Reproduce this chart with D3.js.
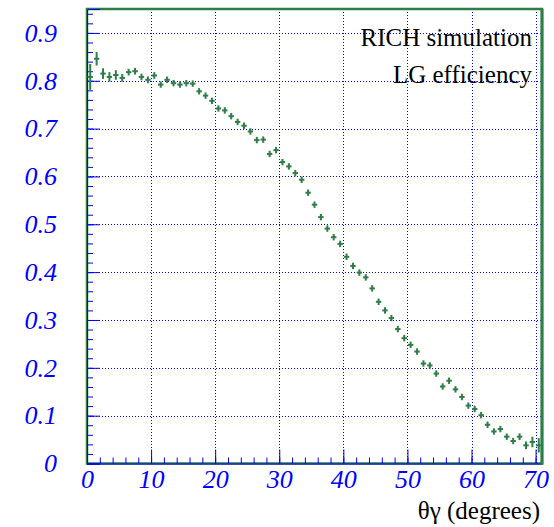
<!DOCTYPE html>
<html>
<head>
    <style>
    body { margin: 0; background: #fff; }
    svg { display: block; }
    .serif { font-family: "Liberation Serif", "DejaVu Serif", "Times New Roman", serif; }
    </style>
</head>
<body>
    <svg width="554" height="527"></svg>
    <script src="https://d3js.org/d3.v7.min.js"></script>
    <script>

        // bin centres (degrees), 1 degree bins
        var theta = [0.5, 1.5, 2.5, 3.5, 4.5, 5.5, 6.5, 7.5, 8.5, 9.5,
            10.5, 11.5, 12.5, 13.5, 14.5, 15.5, 16.5, 17.5, 18.5, 19.5,
            20.5, 21.5, 22.5, 23.5, 24.5, 25.5, 26.5, 27.5, 28.5, 29.5,
            30.5, 31.5, 32.5, 33.5, 34.5, 35.5, 36.5, 37.5, 38.5, 39.5,
            40.5, 41.5, 42.5, 43.5, 44.5, 45.5, 46.5, 47.5, 48.5, 49.5,
            50.5, 51.5, 52.5, 53.5, 54.5, 55.5, 56.5, 57.5, 58.5, 59.5,
            60.5, 61.5, 62.5, 63.5, 64.5, 65.5, 66.5, 67.5, 68.5, 69.5,
            70.5];

        var efficiency = [0.808, 0.846, 0.815, 0.808, 0.812, 0.806, 0.818, 0.820, 0.808, 0.802,
            0.811, 0.792, 0.802, 0.795, 0.792, 0.795, 0.794, 0.778, 0.769, 0.758,
            0.742, 0.738, 0.726, 0.714, 0.706, 0.694, 0.676, 0.677, 0.647, 0.655,
            0.630, 0.621, 0.607, 0.593, 0.566, 0.541, 0.515, 0.491, 0.473, 0.459,
            0.432, 0.413, 0.399, 0.389, 0.366, 0.338, 0.320, 0.304, 0.281, 0.262,
            0.248, 0.234, 0.209, 0.205, 0.188, 0.161, 0.173, 0.155, 0.139, 0.121,
            0.114, 0.101, 0.081, 0.067, 0.072, 0.056, 0.047, 0.056, 0.038, 0.045,
            0.038];

        var errors = [0.027, 0.014, 0.011, 0.010, 0.010, 0.008, 0.007, 0.007, 0.007, 0.007,
            0.007, 0.006, 0.006, 0.006, 0.006, 0.006, 0.006, 0.006, 0.006, 0.006,
            0.006, 0.006, 0.006, 0.006, 0.006, 0.006, 0.006, 0.006, 0.006, 0.006,
            0.006, 0.006, 0.006, 0.006, 0.006, 0.006, 0.006, 0.006, 0.006, 0.006,
            0.006, 0.006, 0.006, 0.006, 0.006, 0.006, 0.006, 0.006, 0.006, 0.006,
            0.006, 0.006, 0.006, 0.006, 0.006, 0.006, 0.006, 0.006, 0.006, 0.006,
            0.006, 0.006, 0.006, 0.006, 0.006, 0.006, 0.006, 0.007, 0.008, 0.011,
            0.015];

        var xTicks = [0, 10, 20, 30, 40, 50, 60, 70];
        var yTicks = [0, 0.1, 0.2, 0.3, 0.4, 0.5, 0.6, 0.7, 0.8, 0.9];
        var legendLines = ["RICH simulation", "LG efficiency"];
        var xTitle = "θγ (degrees)";

        (function () {
            var svg = d3.select("svg"),
                x0 = 87, x1 = 542, y0 = 9, y1 = 463.5;

            var green = "#2f7d48", blue = "#0000ff";
            var serif = '"Liberation Serif", "DejaVu Serif", "Times New Roman", serif';

            var x = d3.scaleLinear().domain([0, 71]).range([x0, x1]);
            var y = d3.scaleLinear().domain([0, 0.95]).range([y1, y0]);

            // grid
            var grid = svg.append("g")
                .attr("stroke", blue)
                .attr("stroke-width", 1)
                .attr("stroke-dasharray", "1,2");
            grid.selectAll(".gx").data(xTicks.slice(1)).enter().append("line")
                .attr("x1", function (d) { return Math.round(x(d)) + 0.5; })
                .attr("x2", function (d) { return Math.round(x(d)) + 0.5; })
                .attr("y1", y0).attr("y2", y1);
            grid.selectAll(".gy").data(yTicks.slice(1)).enter().append("line")
                .attr("y1", function (d) { return Math.round(y(d)) + 0.5; })
                .attr("y2", function (d) { return Math.round(y(d)) + 0.5; })
                .attr("x1", x0).attr("x2", x1);

            // frame
            svg.append("rect")
                .attr("x", x0).attr("y", y0)
                .attr("width", x1 - x0).attr("height", y1 - y0)
                .attr("fill", "none")
                .attr("stroke", green)
                .attr("stroke-width", 2.5);

            // minor ticks
            svg.append("g")
                .attr("transform", "translate(" + x0 + ",0)")
                .call(d3.axisLeft(y).tickValues(d3.range(0, 0.95, 0.02)).tickSize(-6).tickFormat(""))
                .call(function (g) { g.select(".domain").remove(); g.selectAll("line").attr("stroke", blue); });
            svg.append("g")
                .attr("transform", "translate(0," + y1 + ")")
                .call(d3.axisBottom(x).tickValues(d3.range(0, 71, 2)).tickSize(-6).tickFormat(""))
                .call(function (g) { g.select(".domain").remove(); g.selectAll("line").attr("stroke", blue); });

            // major ticks + labels
            var yAxis = svg.append("g")
                .attr("transform", "translate(" + x0 + ",0)")
                .call(d3.axisLeft(y).tickValues(yTicks).tickSize(-13).tickPadding(30)
                    .tickFormat(function (d) { return d === 0 ? "0" : d3.format(".1f")(d); }));
            yAxis.attr("font-family", null);
            yAxis.select(".domain").attr("stroke", blue);
            yAxis.selectAll("line").attr("stroke", blue);
            yAxis.selectAll("text")
                .attr("class", "serif")
                .style("font-family", serif)
                .attr("fill", blue)
                .style("font-style", "italic")
                .style("font-size", "26px");

            var xAxis = svg.append("g")
                .attr("transform", "translate(0," + y1 + ")")
                .call(d3.axisBottom(x).tickValues(xTicks).tickSize(-14).tickPadding(6));
            xAxis.attr("font-family", null);
            xAxis.select(".domain").attr("stroke", blue);
            xAxis.selectAll("line").attr("stroke", blue);
            xAxis.selectAll("text")
                .attr("class", "serif")
                .style("font-family", serif)
                .attr("fill", blue)
                .style("font-style", "italic")
                .style("font-size", "26px");

            // right frame edge over the axes
            svg.append("line")
                .attr("x1", x1).attr("x2", x1).attr("y1", y0).attr("y2", y1 + 1)
                .attr("stroke", green).attr("stroke-width", 3);

            // data points: horizontal bar = bin width, vertical bar = error
            var pts = svg.append("g")
                .attr("stroke", green)
                .attr("stroke-width", 2);
            theta.forEach(function (t, i) {
                var cx = x(t), cy = y(efficiency[i]);
                var half = Math.max(y(0) - y(errors[i]), 3.2);
                pts.append("line")
                    .attr("x1", x(t - 0.5) + 0.5).attr("x2", x(t + 0.5) - 0.5)
                    .attr("y1", cy).attr("y2", cy);
                pts.append("line")
                    .attr("x1", cx).attr("x2", cx)
                    .attr("y1", cy - half).attr("y2", cy + half);
            });

            // legend text
            svg.append("g").selectAll("text").data(legendLines).enter().append("text")
                .attr("class", "serif")
                .attr("x", 532)
                .attr("y", function (d, i) { return 46 + i * 36.5; })
                .attr("text-anchor", "end")
                .style("font-family", serif)
                .style("font-size", "25px")
                .attr("fill", "#000")
                .text(function (d) { return d; });

            svg.append("text")
                .attr("class", "serif")
                .attr("x", 540)
                .attr("y", 519)
                .attr("text-anchor", "end")
                .style("font-family", serif)
                .style("font-size", "25px")
                .attr("fill", "#000")
                .text(xTitle);
        })();

    </script>
</body>
</html>
